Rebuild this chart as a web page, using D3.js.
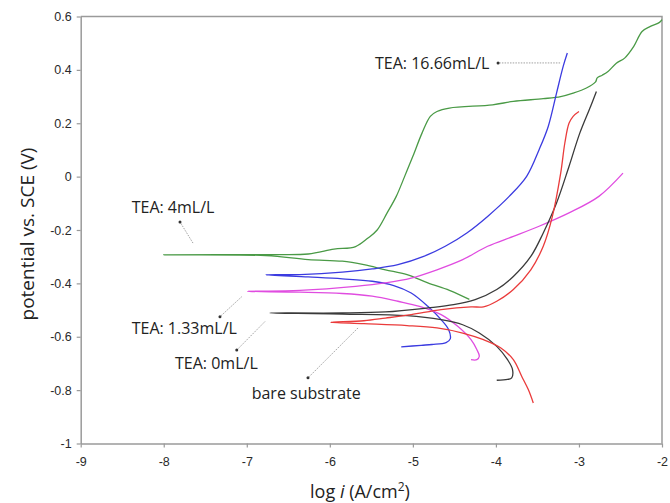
<!DOCTYPE html>
<html>
<head>
<meta charset="utf-8">
<script src="https://cdn.jsdelivr.net/npm/d3@7"></script>
<style>
  body { margin: 0; background: #fff; }
  svg { display: block; }
</style>
</head>
<body>
<div id="vis"></div>
<script>
// tick values
const xTicks = [-9, -8, -7, -6, -5, -4, -3, -2];
const yTicks = [0.6, 0.4, 0.2, 0, -0.2, -0.4, -0.6, -0.8, -1];

// polarization curves, each from cathodic end -> Ecorr -> anodic end  [log i, E]
const tea4 = [
  [-4.32, -0.46], [-4.56, -0.426], [-4.82, -0.398], [-5.07, -0.367], [-5.33, -0.349],
  [-5.59, -0.33], [-5.85, -0.317], [-6.26, -0.311], [-6.77, -0.296], [-8.0, -0.293],
  [-6.77, -0.292], [-6.26, -0.29], [-5.95, -0.272], [-5.69, -0.262], [-5.54, -0.23],
  [-5.43, -0.2], [-5.31, -0.136], [-5.2, -0.074], [-5.1, 0.0], [-5.0, 0.076],
  [-4.89, 0.163], [-4.79, 0.226], [-4.71, 0.244], [-4.56, 0.257], [-4.04, 0.269],
  [-3.79, 0.282], [-3.43, 0.292], [-3.22, 0.3], [-3.07, 0.313], [-2.91, 0.332],
  [-2.8, 0.355], [-2.78, 0.37], [-2.72, 0.38], [-2.65, 0.394], [-2.55, 0.425],
  [-2.45, 0.444], [-2.34, 0.488], [-2.24, 0.544], [-2.14, 0.563], [-2.03, 0.578], [-2.0, 0.588]
];
const tea1666 = [
  [-5.14, -0.638], [-4.9, -0.632], [-4.77, -0.629], [-4.6, -0.622], [-4.55, -0.608],
  [-4.57, -0.573], [-4.66, -0.536], [-4.82, -0.486], [-5.02, -0.436], [-5.23, -0.408],
  [-5.49, -0.392], [-5.85, -0.383], [-6.26, -0.376], [-6.77, -0.368],
  [-6.36, -0.367], [-5.85, -0.358], [-5.49, -0.346], [-5.18, -0.33], [-4.87, -0.299],
  [-4.61, -0.261], [-4.35, -0.211], [-4.1, -0.149], [-3.84, -0.074], [-3.63, 0.001],
  [-3.48, 0.101], [-3.37, 0.188], [-3.27, 0.313], [-3.19, 0.413], [-3.14, 0.463]
];
const tea133 = [
  [-4.3, -0.686], [-4.23, -0.686], [-4.2, -0.673], [-4.23, -0.648], [-4.3, -0.611],
  [-4.46, -0.561], [-4.66, -0.517], [-4.92, -0.486], [-5.18, -0.467], [-5.49, -0.448],
  [-5.85, -0.438], [-6.36, -0.433], [-6.99, -0.43],
  [-6.36, -0.426], [-5.69, -0.411], [-5.33, -0.398], [-5.02, -0.38], [-4.71, -0.349],
  [-4.4, -0.311], [-4.1, -0.261], [-3.79, -0.224], [-3.48, -0.186], [-3.12, -0.136],
  [-2.76, -0.074], [-2.47, 0.013]
];
const tea0 = [
  [-3.99, -0.763], [-3.86, -0.76], [-3.81, -0.754], [-3.8, -0.723], [-3.86, -0.686],
  [-3.99, -0.636], [-4.2, -0.586], [-4.4, -0.555], [-4.66, -0.536], [-5.07, -0.521],
  [-5.85, -0.515], [-6.72, -0.511],
  [-5.85, -0.511], [-5.33, -0.507], [-4.82, -0.492], [-4.51, -0.48], [-4.25, -0.461],
  [-3.99, -0.423], [-3.79, -0.374], [-3.58, -0.299], [-3.43, -0.211], [-3.27, -0.099],
  [-3.12, 0.038], [-2.99, 0.163], [-2.86, 0.263], [-2.79, 0.319]
];
const bare = [
  [-3.55, -0.848], [-3.61, -0.798], [-3.69, -0.748], [-3.79, -0.686], [-3.94, -0.642],
  [-4.15, -0.611], [-4.4, -0.586], [-4.71, -0.567], [-5.07, -0.558], [-5.59, -0.551],
  [-5.99, -0.546],
  [-5.59, -0.54], [-5.33, -0.53], [-5.02, -0.517], [-4.66, -0.498], [-4.3, -0.488],
  [-4.15, -0.488], [-3.99, -0.467], [-3.79, -0.423], [-3.58, -0.349], [-3.43, -0.261],
  [-3.32, -0.149], [-3.22, 0.013], [-3.17, 0.126], [-3.12, 0.2], [-3.07, 0.226], [-3.0, 0.244]
];

const curves = [
  {name: "TEA: 4mL/L", pts: tea4, color: "#4a9a46"},
  {name: "TEA: 16.66mL/L", pts: tea1666, color: "#3b3be0"},
  {name: "TEA: 1.33mL/L", pts: tea133, color: "#e04ce0"},
  {name: "TEA: 0mL/L", pts: tea0, color: "#3a3a3a"},
  {name: "bare substrate", pts: bare, color: "#ea3b3b"}
];

// annotation labels: text anchor (left, middle) and arrow from -> to, in data units
const labels = [
  {text: "TEA: 16.66mL/L", at: [-5.456, 0.426], from: [-3.227, 0.426], to: [-3.974, 0.426]},
  {text: "TEA: 4mL/L", at: [-8.386, -0.117], from: [-7.648, -0.249], to: [-7.804, -0.170]},
  {text: "TEA: 1.33mL/L", at: [-8.386, -0.567], from: [-7.061, -0.450], to: [-7.323, -0.525]},
  {text: "TEA: 0mL/L", at: [-7.864, -0.698], from: [-6.781, -0.543], to: [-7.121, -0.650]},
  {text: "bare substrate", at: [-6.941, -0.811], from: [-5.661, -0.567], to: [-6.263, -0.754]}
];

const width = 670, height = 503;
const margin = {top: 16.5, right: 8, bottom: 59.5, left: 80.7};

const svg = d3.select("#vis").append("svg")
  .attr("width", width)
  .attr("height", height);

const x = d3.scaleLinear().domain([-9, -2]).range([margin.left, width - margin.right]);
const y = d3.scaleLinear().domain([-1, 0.6]).range([height - margin.bottom, margin.top]);

const fmt = d => String(+d.toFixed(1));

// frame (top and right)
svg.append("path")
  .attr("d", `M${x(-9)},${y(0.6)}H${x(-2)}V${y(-1)}`)
  .attr("fill", "none")
  .attr("stroke", "#9a9a9a")
  .attr("stroke-width", 1.5);

// x axis
const xAxisG = svg.append("g")
  .attr("transform", `translate(0, ${y(-1)})`)
  .call(d3.axisBottom(x).tickValues(xTicks).tickFormat(fmt).tickSize(4).tickSizeOuter(0));

// y axis
const yAxisG = svg.append("g")
  .attr("transform", `translate(${x(-9)}, 0)`)
  .call(d3.axisLeft(y).tickValues(yTicks).tickFormat(fmt).tickSize(4).tickSizeOuter(0));

[xAxisG, yAxisG].forEach(g => {
  g.select(".domain").attr("stroke", "#9a9a9a").attr("stroke-width", 1.5);
  g.selectAll(".tick line").attr("stroke", "#9a9a9a").attr("stroke-width", 1.2);
  g.selectAll(".tick text")
    .attr("fill", "#2a2a2a")
    .attr("font-family", "Liberation Sans, Arial, sans-serif")
    .attr("font-size", "12.5px");
});
xAxisG.selectAll(".tick text").attr("dy", "1.25em");
yAxisG.selectAll(".tick text").attr("x", -9);

// axis titles
const xTitle = svg.append("text")
  .attr("x", 360)
  .attr("y", 498)
  .attr("text-anchor", "middle")
  .attr("font-family", "Open Sans, sans-serif")
  .attr("font-size", "18px")
  .attr("fill", "#222");
xTitle.append("tspan").text("log ");
xTitle.append("tspan").attr("font-style", "italic").text("i");
xTitle.append("tspan").text(" (A/cm");
xTitle.append("tspan").attr("font-size", "12px").attr("dy", "-7").text("2");
xTitle.append("tspan").attr("dy", "7").text(")");

svg.append("text")
  .attr("transform", `translate(34, ${(y(0.6) + y(-1)) / 2 + 4}) rotate(-90)`)
  .attr("text-anchor", "middle")
  .attr("font-family", "Open Sans, sans-serif")
  .attr("font-size", "19px")
  .attr("fill", "#222")
  .text("potential vs. SCE (V)");

// curves
const line = d3.line()
  .x(d => x(d[0]))
  .y(d => y(d[1]))
  .curve(d3.curveCatmullRom.alpha(0.5));

svg.append("g").selectAll("path")
  .data(curves)
  .join("path")
  .attr("d", d => line(d.pts))
  .attr("fill", "none")
  .attr("stroke", d => d.color)
  .attr("stroke-width", 1.3);

// annotations
const ann = svg.append("g");
ann.selectAll("line")
  .data(labels)
  .join("line")
  .attr("x1", d => x(d.from[0]))
  .attr("y1", d => y(d.from[1]))
  .attr("x2", d => x(d.to[0]))
  .attr("y2", d => y(d.to[1]))
  .attr("stroke", "#8a8a8a")
  .attr("stroke-width", 0.8)
  .attr("stroke-dasharray", "1.5,1.2");

ann.selectAll("circle")
  .data(labels)
  .join("circle")
  .attr("cx", d => x(d.to[0]))
  .attr("cy", d => y(d.to[1]))
  .attr("r", 1.5)
  .attr("fill", "#333");

ann.selectAll("text")
  .data(labels)
  .join("text")
  .attr("x", d => x(d.at[0]))
  .attr("y", d => y(d.at[1]))
  .attr("dy", "0.35em")
  .attr("font-family", "Open Sans, sans-serif")
  .attr("font-size", "16px")
  .attr("fill", "#222")
  .text(d => d.text);
</script>
</body>
</html>
